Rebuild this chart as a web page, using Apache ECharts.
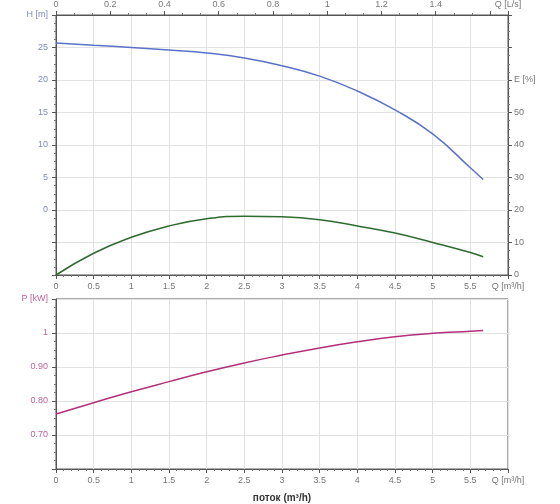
<!DOCTYPE html>
<html>
<head>
<meta charset="utf-8">
<script src="https://cdn.jsdelivr.net/npm/echarts@6/dist/echarts.min.js"></script>
<style>
  html, body { margin: 0; padding: 0; background: #fff; }
  #chart { width: 560px; height: 504px; }
</style>
</head>
<body>
<div id="chart"></div>
<script>
// подача, m3/h
const flowQ = [0, 0.5, 1, 1.5, 2, 2.5, 3, 3.5, 4, 4.5, 5, 5.5, 5.67];
// напор H [m]
const headH = [25.7, 25.35, 25.0, 24.6, 24.15, 23.4, 22.2, 20.6, 18.3, 15.4, 11.7, 6.5, 4.7];
// КПД E [%]
const effE = [0, 6.7, 11.6, 15.1, 17.3, 18.1, 17.9, 17.0, 15.1, 12.9, 10.0, 6.9, 5.6];
// мощность P [kW]
const powerP = [0.762, 0.795, 0.827, 0.857, 0.886, 0.912, 0.935, 0.956, 0.974, 0.989, 0.999, 1.005, 1.007];

const pairs = (ys) => flowQ.map((q, i) => [q, ys[i]]);

const axisCol = '#555';
const gridCol = '#e2e2e2';
const font = 'Liberation Sans';
const lbl = (color) => ({ color: color, fontSize: 9, fontFamily: font });

const myChart = echarts.init(document.getElementById('chart'));

myChart.setOption({
  animation: false,
  grid: [
    { left: 56, right: 52, top: 15, height: 260, show: true, borderColor: axisCol, borderWidth: 1 },
    { left: 56, right: 52, top: 299, height: 173, show: true, borderColor: axisCol, borderWidth: 1 }
  ],
  xAxis: [
    {
      type: 'value', gridIndex: 0, position: 'bottom', min: 0, max: 6, interval: 0.5,
      axisLine: { onZero: false, lineStyle: { color: axisCol } },
      axisTick: { lineStyle: { color: axisCol }, length: 4 },
      minorTick: { show: true, splitNumber: 5, length: 2, lineStyle: { color: '#777' } },
      splitLine: { show: true, lineStyle: { color: gridCol } },
      axisLabel: Object.assign(lbl('#777'), {
        margin: 7,
        formatter: (v) => v >= 6 ? 'Q [m³/h]' : String(v)
      })
    },
    {
      type: 'value', gridIndex: 0, position: 'top', min: 0, max: 6 / 3.6, interval: 0.2,
      axisLine: { onZero: false, lineStyle: { color: axisCol } },
      axisTick: { lineStyle: { color: axisCol }, length: 4 },
      minorTick: { show: true, splitNumber: 3, length: 2, lineStyle: { color: '#777' } },
      splitLine: { show: false },
      axisLabel: Object.assign(lbl('#777'), {
        margin: 6,
        formatter: (v) => v > 1.65 ? 'Q [L/s]' : (v > 1.55 ? '' : String(Math.round(v * 10) / 10))
      })
    },
    {
      type: 'value', gridIndex: 1, position: 'bottom', min: 0, max: 6, interval: 0.5,
      axisLine: { onZero: false, lineStyle: { color: axisCol } },
      axisTick: { lineStyle: { color: axisCol }, length: 4 },
      minorTick: { show: true, splitNumber: 5, length: 2, lineStyle: { color: '#777' } },
      splitLine: { show: true, lineStyle: { color: gridCol } },
      axisLabel: Object.assign(lbl('#777'), {
        margin: 7,
        formatter: (v) => v >= 6 ? 'Q [m³/h]' : String(v)
      }),
      name: 'поток (m³/h)',
      nameLocation: 'middle',
      nameGap: 24,
      nameTextStyle: { color: '#333', fontSize: 10, fontWeight: 'bold', fontFamily: font }
    }
  ],
  yAxis: [
    {
      type: 'value', gridIndex: 0, position: 'left', min: -10, max: 30, interval: 5,
      axisLine: { show: true, onZero: false, lineStyle: { color: axisCol } },
      axisTick: { show: true, lineStyle: { color: axisCol }, length: 4 },
      minorTick: { show: true, splitNumber: 4, length: 2, lineStyle: { color: '#777' } },
      splitLine: { show: true, lineStyle: { color: gridCol } },
      axisLabel: Object.assign(lbl('#7f89c9'), {
        margin: 8,
        formatter: (v) => v >= 30 ? 'H [m]' : (v < 0 ? '' : String(v))
      })
    },
    {
      type: 'value', gridIndex: 0, position: 'right', min: 0, max: 80, interval: 10,
      axisLine: { show: true, onZero: false, lineStyle: { color: axisCol } },
      axisTick: { show: true, lineStyle: { color: axisCol }, length: 4 },
      minorTick: { show: true, splitNumber: 4, length: 2, lineStyle: { color: '#777' } },
      splitLine: { show: false },
      axisLabel: Object.assign(lbl('#777'), {
        margin: 6,
        formatter: (v) => v === 60 ? 'E [%]' : (v > 50 ? '' : String(v))
      })
    },
    {
      type: 'value', gridIndex: 1, position: 'left', min: 0.6, max: 1.1, interval: 0.1,
      axisLine: { show: true, onZero: false, lineStyle: { color: axisCol } },
      axisTick: { show: true, lineStyle: { color: axisCol }, length: 4 },
      minorTick: { show: true, splitNumber: 4, length: 2, lineStyle: { color: '#777' } },
      splitLine: { show: true, lineStyle: { color: gridCol } },
      axisLabel: Object.assign(lbl('#c0649a'), {
        margin: 8,
        formatter: (v) => {
          if (v > 1.09) return 'P [kW]';
          if (v < 0.65) return '';
          if (Math.abs(v - 1) < 1e-6) return '1';
          return v.toFixed(2);
        }
      })
    }
  ],
  series: [
    {
      name: 'H', type: 'line', xAxisIndex: 0, yAxisIndex: 0, smooth: true, showSymbol: false,
      lineStyle: { color: '#5b73c7', width: 1.5 }, itemStyle: { color: '#5b73c7' },
      data: pairs(headH)
    },
    {
      name: 'E', type: 'line', xAxisIndex: 0, yAxisIndex: 1, smooth: true, showSymbol: false,
      lineStyle: { color: '#2f6a2f', width: 1.5 }, itemStyle: { color: '#2f6a2f' },
      data: pairs(effE)
    },
    {
      name: 'P', type: 'line', xAxisIndex: 2, yAxisIndex: 2, smooth: true, showSymbol: false,
      lineStyle: { color: '#b2307b', width: 1.5 }, itemStyle: { color: '#b2307b' },
      data: pairs(powerP)
    }
  ]
});
</script>
</body>
</html>
